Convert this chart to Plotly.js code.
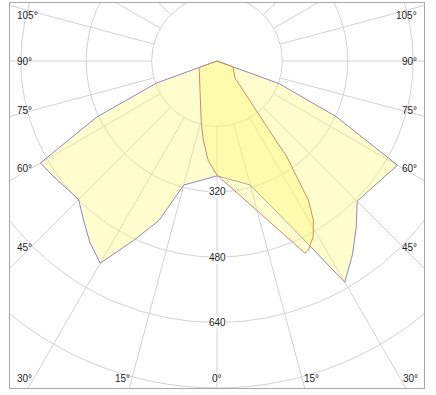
<!DOCTYPE html>
<html><head><meta charset="utf-8">
<script src="https://cdn.plot.ly/plotly-3.0.1.min.js"></script>
<style>html,body{margin:0;padding:0;background:#fff}#chart{width:436px;height:395px}</style>
</head><body><div id="chart"></div>
<script>
// Luminous intensity (cd) vs gamma angle (deg). 0 = straight down, positive = right side.
const wideAngles = [-90,-75,-70,-65,-60,-55,-50,-45,-40,-35,-30,-25,-20,-15,-10,-5,0,5,10,15,20,25,30,35,40,45,50,55,60,65,70,75,90];
const wideValues = [0,0,157,325,499,490,483,479,508,542,571,485,415,314,300,289,281,289,300,314,373,463,625,578,530,485,489,497,510,321,162,0,0];

const narrowAngles = [-90,-75,-70,-60,-50,-45,-40,-35,-30,-25,-20,-15,-10,-5,0,5,10,15,20,24.6,25.8,28.7,31.2,33.3,34.3,36.1,36.6,37.3,38.5,40.7,46.6,60,70,75,90];
const narrowValues = [0,0,47,50,56,60,66,72,80,93,113,150,195,245,279,304,337,380,439,517,514,490,455,407,353,290,238,194,149,105,61,47,42,0,0];

const gridRadii = [160, 320, 480, 640, 800];
const radialTickValues = [320, 480, 640];
const radialTickLabels = ['320', '480', '640'];
const angleTickValues = [0, 15, 30, 45, 60, 75, 90, 105];
const angleTickLabels = ['0°', '15°', '30°', '45°', '60°', '75°', '90°', '105°'];
const spokeAngles = [];
for (let a = -180; a <= 180; a += 15) spokeAngles.push(a);

// Geometry
const W = 436, H = 395;
const margin = {l: 10, r: 12, t: 3, b: 7, pad: 0};
const plotW = W - margin.l - margin.r;
const plotH = H - margin.t - margin.b;
const k = 0.40875;              // px per cd
const yMin = -800;
const yMax = yMin + plotH / k;
const xHalf = plotW / k / 2;
const rad = d => d * Math.PI / 180;

function toXY(angles, values) {
  const x = [], y = [];
  angles.forEach((a, i) => { x.push(values[i] * Math.sin(rad(a))); y.push(-values[i] * Math.cos(rad(a))); });
  return {x, y};
}

const w = toXY(wideAngles, wideValues);
const n = toXY(narrowAngles, narrowValues);

const fillCol = 'rgba(255,248,105,0.33)';
const traces = [
  {x: w.x, y: w.y, type: 'scatter', mode: 'lines', fill: 'toself',
   fillcolor: fillCol, line: {color: '#9088b8', width: 1}, hoverinfo: 'skip'},
  {x: n.x, y: n.y, type: 'scatter', mode: 'lines', fill: 'toself',
   fillcolor: fillCol, line: {color: '#c88c6c', width: 1}, hoverinfo: 'skip'}
];

const gridColor = '#d2d2d6';
const shapes = [];
gridRadii.forEach(r => shapes.push({type: 'circle', xref: 'x', yref: 'y', x0: -r, x1: r, y0: -r, y1: r,
  line: {color: gridColor, width: 1}, layer: 'below'}));
spokeAngles.forEach(a => shapes.push({type: 'line', xref: 'x', yref: 'y',
  x0: gridRadii[0] * Math.sin(rad(a)), y0: -gridRadii[0] * Math.cos(rad(a)),
  x1: 1200 * Math.sin(rad(a)), y1: -1200 * Math.cos(rad(a)),
  line: {color: gridColor, width: 1}, layer: 'below'}));

const font = {family: 'Liberation Sans, Arial, sans-serif', size: 10, color: '#222'};
const annotations = [];
radialTickValues.forEach((v, i) => annotations.push({x: 0, y: -v, xref: 'x', yref: 'y', text: radialTickLabels[i],
  showarrow: false, font, bgcolor: '#ffffff', borderpad: 0, xanchor: 'center', yanchor: 'middle'}));

const edgeInset = 5 / k;        // text inset from frame
angleTickValues.forEach((a, i) => {
  [-1, 1].forEach(s => {
    if (a === 0 && s === -1) return;
    let x, y, xanchor = 'center';
    if (a <= 30) {
      x = s * Math.min(-yMin * Math.tan(rad(a)) * 1.08, 193 / k);
      y = yMin + 10 / k;
    } else {
      const yInt = -xHalf / Math.tan(rad(a));
      y = Math.min(yInt * 0.9, 46 / k);
      x = s * (xHalf - edgeInset);
      xanchor = s < 0 ? 'left' : 'right';
    }
    annotations.push({x, y, xref: 'x', yref: 'y', text: angleTickLabels[i], showarrow: false, font,
      xanchor, yanchor: 'middle'});
  });
});

const axisCommon = {showgrid: false, zeroline: false, showticklabels: false, ticks: '',
  showline: true, mirror: true, linecolor: '#a8a8a8', linewidth: 1, fixedrange: true};

const layout = {
  width: W, height: H, margin,
  paper_bgcolor: '#ffffff', plot_bgcolor: '#ffffff',
  showlegend: false,
  xaxis: Object.assign({range: [-xHalf, xHalf]}, axisCommon),
  yaxis: Object.assign({range: [yMin, yMax]}, axisCommon),
  shapes, annotations
};

Plotly.newPlot('chart', traces, layout, {displayModeBar: false, staticPlot: true});
</script>
</body></html>
